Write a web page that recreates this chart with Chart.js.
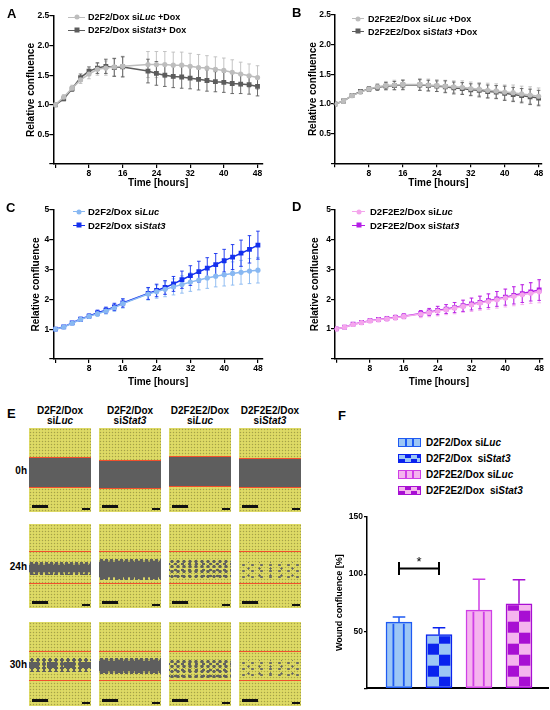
<!DOCTYPE html>
<html>
<head>
<meta charset="utf-8">
<script src="https://cdn.jsdelivr.net/npm/chart.js"></script>
<style>
  body { margin:0; width:550px; height:710px; position:relative; background:#fff; overflow:hidden;
         font-family:'Liberation Sans', Arial, sans-serif; color:#000; }
  canvas { position:absolute; }
  .lbl { position:absolute; font-weight:bold; font-size:13px; line-height:13px; }
  .lg { position:absolute; font-weight:bold; font-size:9px; white-space:nowrap; }
  .lg .row { height:12.7px; display:flex; align-items:center; }
  .mk { position:relative; height:0; border-top:1.5px solid; margin-right:3px; }
  .mk i { position:absolute; left:50%; top:-0.75px; transform:translate(-50%,-50%); }
  .mk i.c { width:5px; height:5px; border-radius:50%; }
  .mk i.s { width:5px; height:5px; }
  .hdr { position:absolute; width:70px; text-align:center; font-weight:bold; font-size:10px; line-height:10.3px; }
  .rl { position:absolute; width:26px; text-align:right; font-weight:bold; font-size:10px; line-height:10px; }
  .tile { position:absolute; width:62px; height:84px; overflow:hidden;
          background: radial-gradient(circle, rgba(95,95,60,.45) .6px, transparent 1px) 0 0/3px 3px,
                      radial-gradient(circle, rgba(255,255,190,.55) .6px, transparent 1px) 1.5px 1.5px/3px 3px,
                      #d8d45c; }
  .band { position:absolute; left:0; width:100%; }
  .solid { background:#5e5e5e; }
  .ragged { background: linear-gradient(#5e5e5e, #5e5e5e) 0 3px/100% calc(100% - 6px) no-repeat,
                        radial-gradient(circle, #5e5e5e 1.8px, transparent 2.2px) 0 0/5px 4px,
                        radial-gradient(circle, #5e5e5e 1.5px, transparent 1.9px) 2px 1px/7px 5px; }
  .pieces { background: linear-gradient(90deg, #5e5e5e 0 9px, transparent 9px 18px, #5e5e5e 18px 26px, transparent 26px 35px, #5e5e5e 35px 44px, transparent 44px 52px, #5e5e5e 52px) 0 4px/100% calc(100% - 8px) no-repeat,
                        radial-gradient(circle, #5e5e5e 1.6px, transparent 2px) 0 0/6px 4px; }
  .dots { background: radial-gradient(circle, #606060 1.4px, transparent 1.9px) 0 0/6px 5px,
                      radial-gradient(circle, #606060 1.1px, transparent 1.6px) 3px 2px/7px 6px; }
  .sparse { background: radial-gradient(circle, #666 1px, transparent 1.5px) 0 0/9px 6px,
                        radial-gradient(circle, #666 0.9px, transparent 1.4px) 4px 3px/11px 7px; }
  .red { position:absolute; left:0; width:100%; height:1.2px; background:#f2502c; }
  .sb { position:absolute; left:3px; bottom:4px; width:16px; height:3px; background:#111; }
  .sb2 { position:absolute; right:1px; bottom:2px; width:8px; height:2px; background:#111; }
  .flg { position:absolute; left:398px; font-weight:bold; font-size:10px; white-space:nowrap; }
  .flg .row { height:15.8px; display:flex; align-items:center; }
  .sw { width:21px; height:7px; margin-right:5px; }
</style>
</head>
<body>
<canvas id="chartA" width="275" height="195" style="left:0;top:0"></canvas>
<canvas id="chartB" width="275" height="195" style="left:275px;top:0"></canvas>
<canvas id="chartC" width="275" height="200" style="left:0;top:195px"></canvas>
<canvas id="chartD" width="275" height="200" style="left:275px;top:195px"></canvas>
<canvas id="chartF" width="260" height="210" style="left:290px;top:500px"></canvas>

<div class="lbl" style="left:7px;top:6.6px">A</div>
<div class="lbl" style="left:292px;top:6.4px">B</div>
<div class="lbl" style="left:6px;top:200.5px">C</div>
<div class="lbl" style="left:292px;top:199.5px">D</div>
<div class="lbl" style="left:7px;top:406.5px">E</div>
<div class="lbl" style="left:338px;top:408.5px">F</div>

<div class="lg" style="left:68px;top:11px">
  <div class="row"><span class="mk" style="width:17px;color:#bdbdbd"><i class="c" style="background:#bdbdbd"></i></span>D2F2/Dox si<i>Luc</i>&nbsp;+Dox</div>
  <div class="row"><span class="mk" style="width:17px;color:#5c5c5c"><i class="s" style="background:#5c5c5c"></i></span>D2F2/Dox si<i>Stat3</i>+ Dox</div>
</div>
<div class="lg" style="left:352px;top:12.6px">
  <div class="row"><span class="mk" style="width:12px;color:#bdbdbd;margin-right:4px"><i class="c" style="background:#bdbdbd"></i></span>D2F2E2/Dox si<i>Luc</i>&nbsp;+Dox</div>
  <div class="row"><span class="mk" style="width:12px;color:#5c5c5c;margin-right:4px"><i class="s" style="background:#5c5c5c"></i></span>D2F2E2/Dox si<i>Stat3</i>&nbsp;+Dox</div>
</div>
<div class="lg" style="left:73px;top:205.3px;font-size:9.5px">
  <div class="row" style="height:13.3px"><span class="mk" style="width:12px;color:#88b8f2;margin-right:3px"><i class="c" style="background:#88b8f2"></i></span>D2F2/Dox si<i>Luc</i></div>
  <div class="row" style="height:13.3px"><span class="mk" style="width:12px;color:#1430ee;margin-right:3px"><i class="s" style="background:#1430ee"></i></span>D2F2/Dox si<i>Stat3</i></div>
</div>
<div class="lg" style="left:352px;top:205.3px;font-size:9.5px">
  <div class="row" style="height:13.3px"><span class="mk" style="width:13px;color:#f4a6ec;margin-right:5px"><i class="c" style="background:#f4a6ec"></i></span>D2F2E2/Dox si<i>Luc</i></div>
  <div class="row" style="height:13.3px"><span class="mk" style="width:13px;color:#b41ee6;margin-right:5px"><i class="s" style="background:#b41ee6"></i></span>D2F2E2/Dox si<i>Stat3</i></div>
</div>

<div id="panelE"></div>

<div class="flg" style="top:434.8px">
  <div class="row"><span class="sw" style="border:1.5px solid #1e5af2;background:linear-gradient(90deg,#9cc6f5 0 6px,#1e5af2 6px 8px,#9cc6f5 8px 13px,#1e5af2 13px 15px,#9cc6f5 15px)"></span>D2F2/Dox si<i>Luc</i></div>
  <div class="row"><span class="sw" style="border:1.5px solid #0a22ee;background:conic-gradient(#0a22ee 25%,#9cc6f5 0 50%,#0a22ee 0 75%,#9cc6f5 0) 0 0/12px 7px"></span>D2F2/Dox&nbsp; si<i>Stat3</i></div>
  <div class="row"><span class="sw" style="border:1.5px solid #cf3fe6;background:linear-gradient(90deg,#f5b4ee 0 6px,#cf3fe6 6px 8px,#f5b4ee 8px 13px,#cf3fe6 13px 15px,#f5b4ee 15px)"></span>D2F2E2/Dox si<i>Luc</i></div>
  <div class="row"><span class="sw" style="border:1.5px solid #a80fd3;background:conic-gradient(#a80fd3 25%,#f5b4ee 0 50%,#a80fd3 0 75%,#f5b4ee 0) 0 0/12px 7px"></span>D2F2E2/Dox&nbsp; si<i>Stat3</i></div>
</div>

<script>
// ---- data ----
const hoursAC = [0, 2, 4, 6, 8, 10, 12, 14, 16, 22, 24, 26, 28, 30, 32, 34, 36, 38, 40, 42, 44, 46, 48];
const hoursBD = [0, 2, 4, 6, 8, 10, 12, 14, 16, 20, 22, 24, 26, 28, 30, 32, 34, 36, 38, 40, 42, 44, 46, 48];
const hourTicks = [0, 8, 16, 24, 32, 40, 48];

// A: D2F2/Dox +Dox
const aLuc     = [1.00, 1.13, 1.28, 1.42, 1.52, 1.60, 1.62, 1.64, 1.65, 1.68, 1.68, 1.68, 1.67, 1.67, 1.65, 1.63, 1.62, 1.60, 1.58, 1.55, 1.52, 1.49, 1.46];
const aLucErr  = [0.02, 0.04, 0.05, 0.06, 0.08, 0.10, 0.12, 0.15, 0.17, 0.22, 0.22, 0.22, 0.22, 0.22, 0.22, 0.22, 0.21, 0.21, 0.21, 0.21, 0.20, 0.20, 0.20];
const aStat    = [1.00, 1.10, 1.27, 1.46, 1.57, 1.62, 1.65, 1.63, 1.64, 1.57, 1.53, 1.50, 1.48, 1.47, 1.45, 1.43, 1.41, 1.39, 1.38, 1.36, 1.35, 1.34, 1.31];
const aStatErr = [0.02, 0.03, 0.04, 0.06, 0.07, 0.09, 0.12, 0.15, 0.17, 0.20, 0.20, 0.19, 0.19, 0.19, 0.18, 0.18, 0.18, 0.17, 0.17, 0.17, 0.16, 0.16, 0.16];

// B: D2F2E2/Dox +Dox
const bLuc     = [1.00, 1.05, 1.14, 1.20, 1.25, 1.29, 1.31, 1.32, 1.33, 1.33, 1.32, 1.31, 1.30, 1.29, 1.28, 1.26, 1.25, 1.23, 1.22, 1.20, 1.19, 1.17, 1.15, 1.13];
const bLucErr  = [0.01, 0.02, 0.03, 0.03, 0.04, 0.05, 0.07, 0.08, 0.08, 0.10, 0.10, 0.10, 0.10, 0.10, 0.11, 0.11, 0.11, 0.12, 0.12, 0.12, 0.13, 0.13, 0.14, 0.14];
const bStat    = [1.00, 1.05, 1.14, 1.21, 1.25, 1.28, 1.30, 1.31, 1.32, 1.32, 1.31, 1.30, 1.29, 1.27, 1.26, 1.24, 1.23, 1.21, 1.20, 1.18, 1.16, 1.14, 1.12, 1.10];
const bStatErr = [0.01, 0.02, 0.03, 0.03, 0.04, 0.05, 0.06, 0.07, 0.08, 0.09, 0.09, 0.09, 0.10, 0.10, 0.10, 0.10, 0.11, 0.11, 0.11, 0.12, 0.12, 0.12, 0.13, 0.13];

// C: D2F2/Dox
const cLuc     = [1.00, 1.07, 1.20, 1.33, 1.43, 1.52, 1.61, 1.72, 1.86, 2.18, 2.26, 2.34, 2.42, 2.50, 2.58, 2.65, 2.72, 2.78, 2.83, 2.87, 2.91, 2.95, 2.98];
const cLucErr  = [0.02, 0.03, 0.05, 0.06, 0.07, 0.09, 0.10, 0.12, 0.15, 0.20, 0.22, 0.25, 0.27, 0.29, 0.31, 0.33, 0.35, 0.36, 0.38, 0.39, 0.40, 0.42, 0.43];
const cStat    = [1.00, 1.08, 1.21, 1.34, 1.44, 1.55, 1.64, 1.75, 1.88, 2.20, 2.30, 2.40, 2.52, 2.66, 2.80, 2.93, 3.05, 3.17, 3.30, 3.42, 3.55, 3.68, 3.82];
const cStatErr = [0.02, 0.03, 0.05, 0.06, 0.07, 0.09, 0.10, 0.12, 0.14, 0.20, 0.21, 0.23, 0.25, 0.29, 0.33, 0.35, 0.35, 0.37, 0.38, 0.42, 0.44, 0.46, 0.47];

// D: D2F2E2/Dox
const dLuc     = [1.00, 1.06, 1.15, 1.21, 1.27, 1.31, 1.34, 1.38, 1.42, 1.50, 1.55, 1.60, 1.65, 1.70, 1.76, 1.81, 1.87, 1.92, 1.98, 2.04, 2.10, 2.15, 2.20, 2.25];
const dLucErr  = [0.02, 0.03, 0.04, 0.05, 0.06, 0.07, 0.07, 0.08, 0.08, 0.12, 0.14, 0.16, 0.17, 0.19, 0.20, 0.22, 0.24, 0.26, 0.28, 0.30, 0.32, 0.33, 0.34, 0.37];
const dStat    = [1.00, 1.06, 1.16, 1.22, 1.28, 1.32, 1.35, 1.39, 1.43, 1.52, 1.57, 1.62, 1.67, 1.72, 1.78, 1.84, 1.89, 1.95, 2.01, 2.07, 2.13, 2.19, 2.25, 2.31];
const dStatErr = [0.02, 0.03, 0.03, 0.04, 0.05, 0.06, 0.07, 0.07, 0.08, 0.10, 0.12, 0.14, 0.15, 0.17, 0.19, 0.20, 0.21, 0.23, 0.25, 0.27, 0.29, 0.30, 0.31, 0.35];

// F: wound confluence
const woundGroups = ['D2F2/Dox siLuc', 'D2F2/Dox siStat3', 'D2F2E2/Dox siLuc', 'D2F2E2/Dox siStat3'];
const woundMean = [58, 47, 68.5, 74];
const woundErr  = [4.5, 6, 27, 21];
const sigPair = [0, 1];
const sigLevel = 105;

// E: wound images (column / row labels)
const imgCols = [['D2F2/Dox', 'Luc'], ['D2F2/Dox', 'Stat3'], ['D2F2E2/Dox', 'Luc'], ['D2F2E2/Dox', 'Stat3']];
const imgRows = ['0h', '24h', '30h'];

const FONT = "'Liberation Sans', Arial, sans-serif";
Chart.defaults.font.family = FONT;
Chart.defaults.color = '#000';

// error bars for the time courses, drawn under the markers
const errorBars = {
  id: 'errorBars',
  beforeDatasetsDraw(chart) {
    const {ctx, scales: {y}} = chart;
    chart.data.datasets.forEach((ds, i) => {
      ctx.save();
      ctx.strokeStyle = ds.borderColor;
      ctx.lineWidth = 0.9;
      chart.getDatasetMeta(i).data.forEach((pt, j) => {
        const v = ds.data[j].y, e = ds.errors[j];
        const top = y.getPixelForValue(v + e), bot = y.getPixelForValue(v - e);
        ctx.beginPath();
        ctx.moveTo(pt.x, top); ctx.lineTo(pt.x, bot);
        ctx.moveTo(pt.x - 1.8, top); ctx.lineTo(pt.x + 1.8, top);
        ctx.moveTo(pt.x - 1.8, bot); ctx.lineTo(pt.x + 1.8, bot);
        ctx.stroke();
      });
      ctx.restore();
    });
  }
};

function boldFont(size) {
  return {family: FONT, size: size, weight: 'bold', lineHeight: 1.2};
}

function linePanel(id, hours, series, p) {
  return new Chart(document.getElementById(id), {
    type: 'line',
    data: {
      datasets: series.map(s => ({
        data: hours.map((h, i) => ({x: h, y: s.values[i]})),
        errors: s.errors,
        borderColor: s.color,
        backgroundColor: s.color,
        borderWidth: 1.5,
        pointStyle: s.marker,
        pointRadius: s.marker === 'rect' ? 3.4 : 2.6,
        pointBorderWidth: 0
      }))
    },
    options: {
      responsive: false,
      animation: false,
      layout: {padding: {top: p.top, right: p.right, left: 0, bottom: 0}},
      plugins: {legend: {display: false}, tooltip: {enabled: false}},
      scales: {
        x: {
          type: 'linear', min: p.xmin, max: p.xmax,
          afterBuildTicks: s => { s.ticks = hourTicks.map(v => ({value: v})); },
          afterFit: s => { s.height = p.xh; },
          ticks: {callback: v => v === 0 ? '' : v, font: boldFont(8.5), color: '#000', padding: 1, maxRotation: 0, autoSkip: false},
          grid: {display: true, drawOnChartArea: false, drawTicks: true, tickLength: 4, color: '#000', lineWidth: 1.2},
          border: {display: true, color: '#000', width: 1.5},
          title: {display: true, text: 'Time [hours]', font: boldFont(10), color: '#000', padding: {top: 0, bottom: p.xtb}}
        },
        y: {
          min: 0, max: p.ymax,
          afterFit: s => { s.width = p.yw; },
          ticks: {stepSize: p.ystep, callback: p.fmt, font: boldFont(8.5), color: '#000', padding: 0},
          grid: {display: true, drawOnChartArea: false, drawTicks: true, tickLength: 4, color: '#000', lineWidth: 1.2},
          border: {display: true, color: '#000', width: 1.5},
          title: {display: true, text: 'Relative confluence', font: boldFont(10), color: '#000', padding: {top: p.ytp, bottom: 0}}
        }
      }
    },
    plugins: [errorBars]
  });
}

const fmtDec = v => v === 0 ? '' : v.toFixed(1);
const fmtInt = v => v === 0 ? '' : v;

linePanel('chartA', hoursAC, [
  {values: aLuc, errors: aLucErr, color: '#bdbdbd', marker: 'circle'},
  {values: aStat, errors: aStatErr, color: '#5c5c5c', marker: 'rect'}
], {xmin: -0.47, xmax: 49.3, ymax: 2.5, ystep: 0.5, fmt: fmtDec, top: 16, right: 12, yw: 53.3, xh: 31, ytp: 25, xtb: 6});

linePanel('chartB', hoursBD, [
  {values: bLuc, errors: bLucErr, color: '#bdbdbd', marker: 'circle'},
  {values: bStat, errors: bStatErr, color: '#5c5c5c', marker: 'rect'}
], {xmin: 0, xmax: 48.8, ymax: 2.5, ystep: 0.5, fmt: fmtDec, top: 15, right: 8, yw: 60, xh: 31.7, ytp: 32, xtb: 6});

linePanel('chartC', hoursAC, [
  {values: cLuc, errors: cLucErr, color: '#88b8f2', marker: 'circle'},
  {values: cStat, errors: cStatErr, color: '#1430ee', marker: 'rect'}
], {xmin: -0.47, xmax: 49.2, ymax: 5, ystep: 1, fmt: fmtInt, top: 15, right: 12, yw: 53.3, xh: 36, ytp: 30.5, xtb: 7});

linePanel('chartD', hoursBD, [
  {values: dLuc, errors: dLucErr, color: '#f4a6ec', marker: 'circle'},
  {values: dStat, errors: dStatErr, color: '#b41ee6', marker: 'rect'}
], {xmin: -0.27, xmax: 48.9, ymax: 5, ystep: 1, fmt: fmtInt, top: 15, right: 7, yw: 60, xh: 36.3, ytp: 34, xtb: 7});

// ---- F: patterned bars, one-sided error bars, significance bracket ----
const barFill   = ['#9cc6f5', '#9cc6f5', '#f5b4ee', '#f5b4ee'];
const barLine   = ['#1e5af2', '#0a22ee', '#cf3fe6', '#a80fd3'];
const barKind   = ['stripes', 'checker', 'stripes', 'checker'];

const barDecor = {
  id: 'barDecor',
  afterDatasetsDraw(chart) {
    const {ctx, scales: {y}} = chart;
    const meta = chart.getDatasetMeta(0);
    meta.data.forEach((bar, i) => {
      const {x, y: top, base, width} = bar.getProps(['x', 'y', 'base', 'width'], true);
      const bw = 1.5;
      const l = x - width / 2 + bw, r = x + width / 2 - bw, t = top + bw, b = base - bw;
      ctx.save();
      ctx.beginPath(); ctx.rect(l, t, r - l, b - t); ctx.clip();
      ctx.fillStyle = barLine[i];
      if (barKind[i] === 'stripes') {
        [0.25, 0.65].forEach(f => ctx.fillRect(x - width / 2 + width * f, t, 1.8, b - t));
      } else {
        const cell = 11;
        for (let k = 0; base - k * cell > t; k++) {
          const cx = k % 2 === 0 ? x : l;
          const cw = k % 2 === 0 ? r - x : x - l;
          ctx.fillRect(cx, base - (k + 1) * cell, cw, cell);
        }
      }
      ctx.restore();

      // error bar (upwards only)
      const eTop = y.getPixelForValue(woundMean[i] + woundErr[i]);
      ctx.save();
      ctx.strokeStyle = barLine[i];
      ctx.lineWidth = 1.5;
      ctx.beginPath();
      ctx.moveTo(x, top); ctx.lineTo(x, eTop);
      ctx.moveTo(x - 6.3, eTop); ctx.lineTo(x + 6.3, eTop);
      ctx.stroke();
      ctx.restore();
    });

    // significance bracket
    const x1 = meta.data[sigPair[0]].x, x2 = meta.data[sigPair[1]].x;
    const yb = y.getPixelForValue(sigLevel);
    ctx.save();
    ctx.strokeStyle = '#000';
    ctx.lineWidth = 2;
    ctx.beginPath();
    ctx.moveTo(x1, yb); ctx.lineTo(x2, yb);
    ctx.moveTo(x1, yb - 6.5); ctx.lineTo(x1, yb + 6.5);
    ctx.moveTo(x2, yb - 6.5); ctx.lineTo(x2, yb + 6.5);
    ctx.stroke();
    ctx.fillStyle = '#000';
    ctx.font = '13px ' + FONT;
    ctx.textAlign = 'center';
    ctx.textBaseline = 'alphabetic';
    ctx.fillText('*', (x1 + x2) / 2, yb - 2);
    ctx.restore();
  }
};

new Chart(document.getElementById('chartF'), {
  type: 'bar',
  data: {
    labels: woundGroups,
    datasets: [{
      data: woundMean.map((v, i) => ({x: i + 1, y: v})),
      backgroundColor: barFill,
      borderColor: barLine,
      borderWidth: 1.5,
      borderSkipped: false,
      barThickness: 26
    }]
  },
  options: {
    responsive: false,
    animation: false,
    layout: {padding: {top: 17, right: 2, left: 0, bottom: 0}},
    plugins: {legend: {display: false}, tooltip: {enabled: false}},
    scales: {
      x: {
        type: 'linear', min: 0.2, max: 4.725, offset: false,
        afterFit: s => { s.height = 21.7; },
        ticks: {display: false},
        grid: {display: false, offset: false},
        border: {display: true, color: '#000', width: 2}
      },
      y: {
        min: 0, max: 150,
        afterFit: s => { s.width = 77; },
        ticks: {stepSize: 50, callback: fmtInt, font: boldFont(8.5), color: '#000', padding: 1},
        grid: {display: true, drawOnChartArea: false, drawTicks: true, tickLength: 3, color: '#000', lineWidth: 1.2},
        border: {display: true, color: '#000', width: 1.5},
        title: {display: true, text: 'Wound confluence [%]', font: boldFont(9), color: '#000', padding: {top: 44, bottom: 0}}
      }
    }
  },
  plugins: [barDecor]
});

// ---- E: scratch-wound image grid ----
const tileLeft = [29, 99, 169, 239];
const tileTop = [428, 524, 622];
const bandLook = [
  [{t: 29, b: 59, k: 'solid'}, {t: 32, b: 60, k: 'solid'}, {t: 28, b: 58, k: 'solid'}, {t: 30, b: 59, k: 'solid'}],
  [{t: 38, b: 51, k: 'ragged'}, {t: 35, b: 56, k: 'ragged'}, {t: 35, b: 56, k: 'dots'}, {t: 38, b: 54, k: 'sparse'}],
  [{t: 36, b: 50, k: 'pieces'}, {t: 36, b: 52, k: 'ragged'}, {t: 37, b: 56, k: 'dots'}, {t: 38, b: 54, k: 'sparse'}]
];
const redLines = [null, [27, 59], [29, 58]];

let html = '';
imgCols.forEach((c, j) => {
  html += `<div class="hdr" style="left:${tileLeft[j] - 4}px;top:406.2px">${c[0]}<br>si<i>${c[1]}</i></div>`;
});
imgRows.forEach((r, i) => {
  html += `<div class="rl" style="left:1px;top:${tileTop[i] + 38}px">${r}</div>`;
  imgCols.forEach((c, j) => {
    const b = bandLook[i][j];
    const reds = redLines[i] || [b.t, b.b];
    html += `<div class="tile" style="left:${tileLeft[j]}px;top:${tileTop[i]}px">` +
      `<div class="band ${b.k}" style="top:${b.t}px;height:${b.b - b.t}px"></div>` +
      `<div class="red" style="top:${reds[0]}px"></div><div class="red" style="top:${reds[1]}px"></div>` +
      `<div class="sb"></div><div class="sb2"></div></div>`;
  });
});
document.getElementById('panelE').innerHTML = html;
</script>
</body>
</html>
